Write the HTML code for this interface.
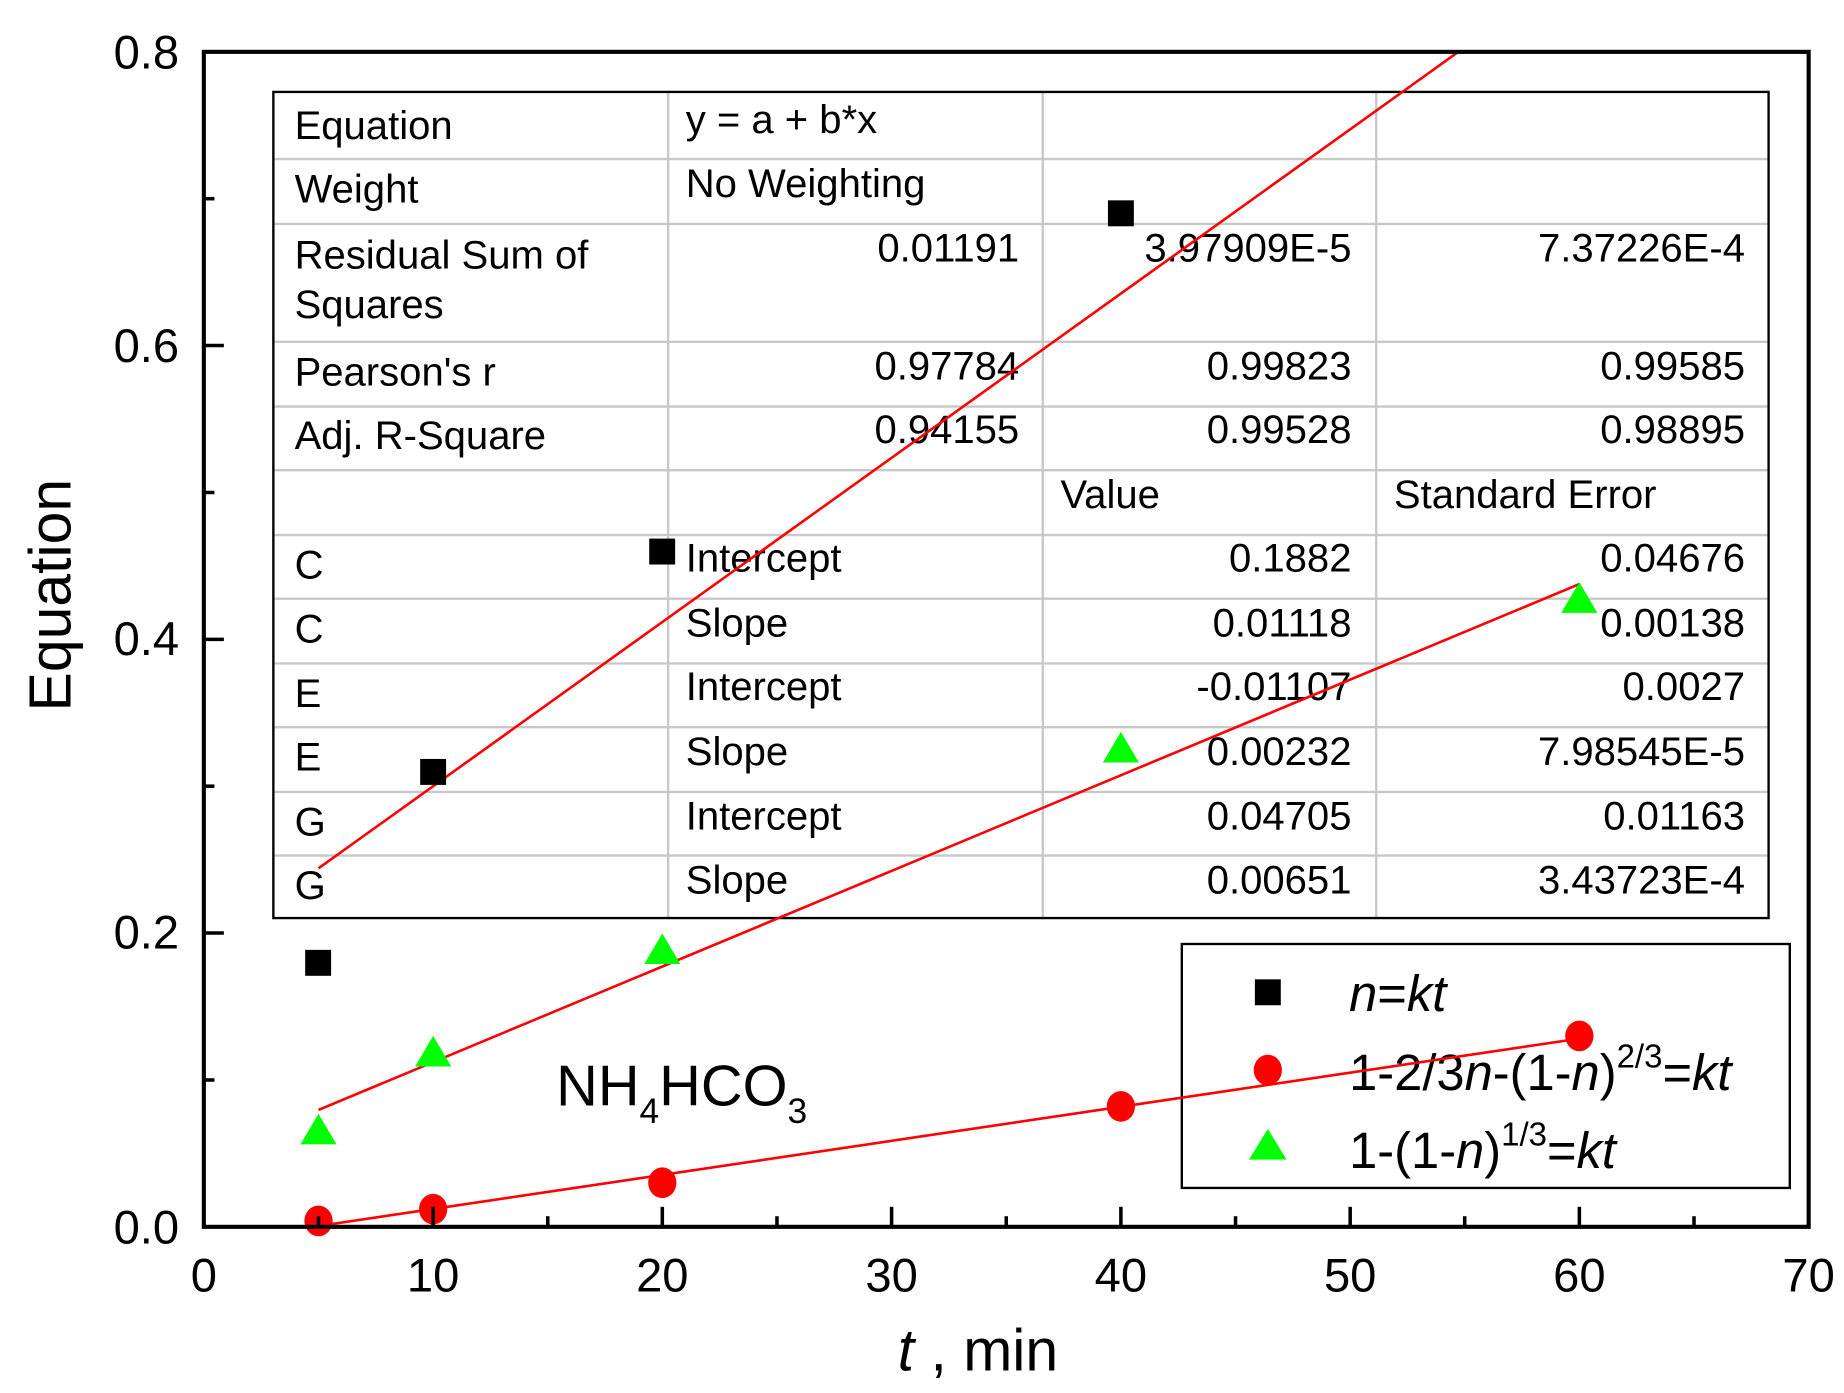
<!DOCTYPE html>
<html><head><meta charset="utf-8"><style>
html,body{margin:0;padding:0;background:#fff;}
svg{display:block;}
text{font-family:"Liberation Sans",Arial,sans-serif;}
</style></head><body>
<svg width="1844" height="1393" viewBox="0 0 1565 1182" preserveAspectRatio="none" xmlns="http://www.w3.org/2000/svg">
<rect width="1565" height="1182" fill="#fff"/>
<!-- table -->
<g stroke="#c8c8c8" stroke-width="2">
<line x1="232" y1="135" x2="1501" y2="135"/><line x1="232" y1="190" x2="1501" y2="190"/>
<line x1="232" y1="290" x2="1501" y2="290"/><line x1="232" y1="345" x2="1501" y2="345"/>
<line x1="232" y1="399" x2="1501" y2="399"/><line x1="232" y1="454" x2="1501" y2="454"/>
<line x1="232" y1="508" x2="1501" y2="508"/><line x1="232" y1="563" x2="1501" y2="563"/>
<line x1="232" y1="617" x2="1501" y2="617"/><line x1="232" y1="672" x2="1501" y2="672"/>
<line x1="232" y1="726" x2="1501" y2="726"/>
<line x1="567" y1="78" x2="567" y2="779"/><line x1="885" y1="78" x2="885" y2="779"/><line x1="1168" y1="78" x2="1168" y2="779"/>
</g>
<rect x="232" y="78" width="1269" height="701" fill="none" stroke="#000" stroke-width="2"/>
<g font-size="34" fill="#000">
<text x="250" y="118">Equation</text><text x="582" y="113">y = a + b*x</text>
<text x="250" y="172">Weight</text><text x="582" y="167">No Weighting</text>
<text x="250" y="228">Residual Sum of</text><text x="250" y="270">Squares</text>
<text x="250" y="327">Pearson's r</text>
<text x="250" y="381">Adj. R-Square</text>
<text x="250" y="491">C</text><text x="250" y="545">C</text><text x="250" y="600">E</text>
<text x="250" y="654">E</text><text x="250" y="709">G</text><text x="250" y="763">G</text>
<text x="582" y="485">Intercept</text><text x="582" y="540">Slope</text><text x="582" y="594">Intercept</text>
<text x="582" y="649">Slope</text><text x="582" y="704">Intercept</text><text x="582" y="758">Slope</text>
<text x="900" y="431">Value</text><text x="1183" y="431">Standard Error</text>
<g text-anchor="end">
<text x="865" y="222">0.01191</text><text x="1147" y="222">3.97909E-5</text><text x="1481" y="222">7.37226E-4</text>
<text x="865" y="322">0.97784</text><text x="1147" y="322">0.99823</text><text x="1481" y="322">0.99585</text>
<text x="865" y="376">0.94155</text><text x="1147" y="376">0.99528</text><text x="1481" y="376">0.98895</text>
<text x="1147" y="485">0.1882</text><text x="1481" y="485">0.04676</text>
<text x="1147" y="540">0.01118</text><text x="1481" y="540">0.00138</text>
<text x="1147" y="594">-0.01107</text><text x="1481" y="594">0.0027</text>
<text x="1147" y="649">0.00232</text><text x="1481" y="649">7.98545E-5</text>
<text x="1147" y="704">0.04705</text><text x="1481" y="704">0.01163</text>
<text x="1147" y="758">0.00651</text><text x="1481" y="758">3.43723E-4</text>
</g></g>
<!-- legend -->
<rect x="1003" y="801" width="516" height="207" fill="#fff" stroke="#000" stroke-width="2"/>
<rect x="1065" y="831" width="22" height="22" fill="#000"/>
<ellipse cx="1076" cy="908" rx="12" ry="13" fill="#ff0000"/>
<polygon points="1076,958 1060,984 1092,984" fill="#00ff00"/>
<g font-size="43" fill="#000">
<text x="1145" y="858"><tspan font-style="italic">n</tspan>=<tspan font-style="italic">kt</tspan></text>
<text x="1145" y="925">1-2/3<tspan font-style="italic">n</tspan>-(1-<tspan font-style="italic">n</tspan>)<tspan font-size="28" dy="-19">2/3</tspan><tspan dy="19">=</tspan><tspan font-style="italic">kt</tspan></text>
<text x="1145" y="991">1-(1-<tspan font-style="italic">n</tspan>)<tspan font-size="28" dy="-19">1/3</tspan><tspan dy="19">=</tspan><tspan font-style="italic">kt</tspan></text>
</g>
<!-- fit lines -->
<g stroke="#ff0000" stroke-width="2.2">
<line x1="270.3" y1="736.8" x2="1237.7" y2="44"/>
<line x1="270.3" y1="941.8" x2="1340.4" y2="495.6"/>
<line x1="270.3" y1="1040.3" x2="1340.4" y2="881.3"/>
</g>
<!-- squares -->
<g fill="#000">
<rect x="259" y="806" width="22" height="22"/><rect x="356.6" y="644" width="22" height="22"/>
<rect x="551" y="457" width="22" height="22"/><rect x="940.3" y="170" width="22" height="22"/>
</g>
<!-- triangles -->
<g fill="#00ff00">
<polygon points="270.3,945 255,971 285.6,971"/><polygon points="367.6,879 352.3,905 383,905"/>
<polygon points="562.1,792 546.8,818 577.4,818"/><polygon points="951.3,621 936,647 966.6,647"/>
<polygon points="1340.4,494 1325,520 1355.7,520"/>
</g>
<!-- circles -->
<g fill="#ff0000">
<ellipse cx="270.3" cy="1036" rx="12" ry="13"/><ellipse cx="367.6" cy="1026" rx="12" ry="13"/>
<ellipse cx="562.1" cy="1003.6" rx="12" ry="13"/><ellipse cx="951.3" cy="938.8" rx="12" ry="13"/>
<ellipse cx="1340.4" cy="879" rx="12" ry="13"/>
</g>
<text x="472" y="938" font-size="49">NH<tspan font-size="30" dy="15">4</tspan><tspan dy="-15">HCO</tspan><tspan font-size="30" dy="15">3</tspan></text>
<!-- axes frame -->
<rect x="173" y="44" width="1362" height="997" fill="none" stroke="#000" stroke-width="3.5"/>
<g stroke="#000" stroke-width="3">
<line x1="367.6" y1="1041" x2="367.6" y2="1024"/><line x1="562.1" y1="1041" x2="562.1" y2="1024"/>
<line x1="756.7" y1="1041" x2="756.7" y2="1024"/><line x1="951.3" y1="1041" x2="951.3" y2="1024"/>
<line x1="1145.9" y1="1041" x2="1145.9" y2="1024"/><line x1="1340.4" y1="1041" x2="1340.4" y2="1024"/>
<line x1="270.3" y1="1041" x2="270.3" y2="1032"/><line x1="464.9" y1="1041" x2="464.9" y2="1032"/>
<line x1="659.4" y1="1041" x2="659.4" y2="1032"/><line x1="854" y1="1041" x2="854" y2="1032"/>
<line x1="1048.6" y1="1041" x2="1048.6" y2="1032"/><line x1="1243.1" y1="1041" x2="1243.1" y2="1032"/>
<line x1="1437.7" y1="1041" x2="1437.7" y2="1032"/>
<line x1="173" y1="791.7" x2="190" y2="791.7"/><line x1="173" y1="542.5" x2="190" y2="542.5"/>
<line x1="173" y1="293.2" x2="190" y2="293.2"/>
<line x1="173" y1="916.4" x2="182" y2="916.4"/><line x1="173" y1="667.1" x2="182" y2="667.1"/>
<line x1="173" y1="417.9" x2="182" y2="417.9"/><line x1="173" y1="168.6" x2="182" y2="168.6"/>
</g>
<g font-size="40" fill="#000" text-anchor="end">
<text x="152" y="1055">0.0</text><text x="152" y="805">0.2</text><text x="152" y="556">0.4</text>
<text x="152" y="307">0.6</text><text x="152" y="58">0.8</text>
</g>
<g font-size="40" fill="#000" text-anchor="middle">
<text x="173" y="1096">0</text><text x="367.6" y="1096">10</text><text x="562.1" y="1096">20</text>
<text x="756.7" y="1096">30</text><text x="951.3" y="1096">40</text><text x="1145.9" y="1096">50</text>
<text x="1340.4" y="1096">60</text><text x="1535" y="1096">70</text>
</g>
<text x="830" y="1163" font-size="50" text-anchor="middle"><tspan font-style="italic">t</tspan> , min</text>
<text transform="translate(60,505) rotate(-90)" font-size="50" text-anchor="middle">Equation</text>
</svg>
</body></html>
